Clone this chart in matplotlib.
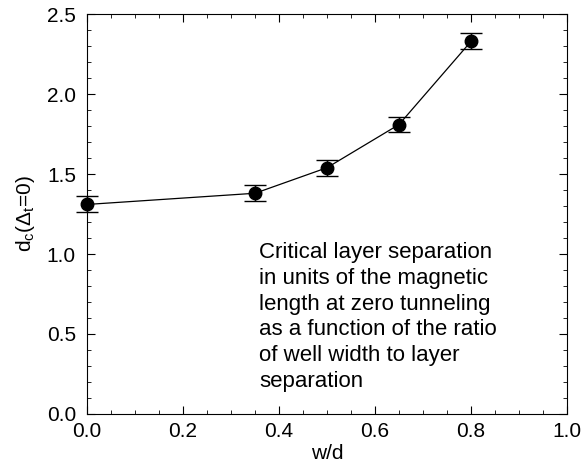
import matplotlib
matplotlib.use("Agg")
import matplotlib.pyplot as plt
from matplotlib.ticker import MultipleLocator

plt.rcParams['font.family'] = ['Liberation Sans', 'DejaVu Sans']
plt.rcParams['mathtext.fontset'] = 'custom'
plt.rcParams['mathtext.rm'] = 'Liberation Sans'
plt.rcParams['mathtext.it'] = 'Liberation Sans'

# data
wd = [0.0, 0.35, 0.5, 0.65, 0.8]
dc = [1.31, 1.38, 1.54, 1.81, 2.33]
err = [0.05, 0.05, 0.05, 0.05, 0.05]

fig = plt.figure(figsize=(5.84, 4.72), dpi=100)
ax = fig.add_axes([0.149, 0.123, 0.822, 0.847])

ax.errorbar(wd, dc, yerr=err, color='black', lw=0.9, marker='o', ms=9,
            capsize=8, capthick=1.0, elinewidth=1.0, clip_on=False, zorder=3)

ax.set_xlim(0, 1.0)
ax.set_ylim(0, 2.5)
ax.xaxis.set_major_locator(MultipleLocator(0.2))
ax.xaxis.set_minor_locator(MultipleLocator(0.05))
ax.yaxis.set_major_locator(MultipleLocator(0.5))
ax.yaxis.set_minor_locator(MultipleLocator(0.1))
ax.xaxis.set_major_formatter(plt.FormatStrFormatter('%.1f'))
ax.yaxis.set_major_formatter(plt.FormatStrFormatter('%.1f'))
ax.tick_params(which='both', direction='in', top=True, right=True, labelsize=15)
ax.tick_params(which='major', length=6)
ax.tick_params(which='minor', length=3)
ax.tick_params(axis='x', pad=6)
ax.tick_params(axis='y', pad=8)

ax.set_xlabel('w/d', fontsize=15, labelpad=2)
ax.set_ylabel(r'd$_\mathregular{c}$($\Delta_\mathregular{t}$=0)', fontsize=15, labelpad=7)

ax.text(0.358, 0.43,
        'Critical layer separation\nin units of the magnetic\nlength at zero tunneling\n'
        'as a function of the ratio\nof well width to layer\nseparation',
        transform=ax.transAxes, fontsize=16, va='top', ha='left', linespacing=1.3)

fig.savefig('out.png', dpi=100)
